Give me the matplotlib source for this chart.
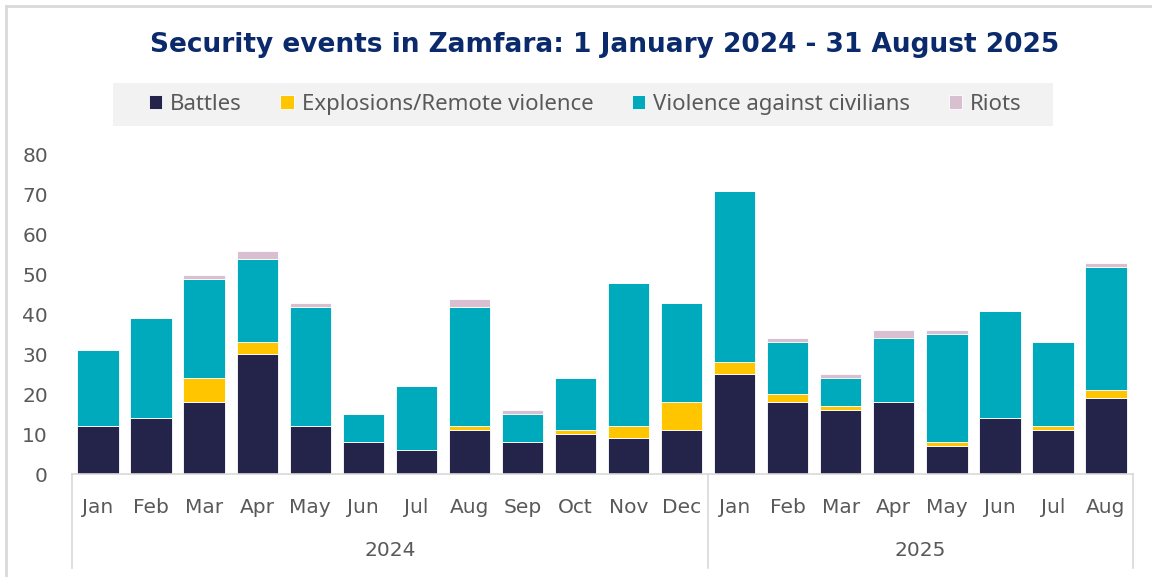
import numpy as np
import matplotlib
matplotlib.use("Agg")
import matplotlib.pyplot as plt
from matplotlib.lines import Line2D
from matplotlib.patches import Rectangle

# months on the x axis (two years)
months = ["Jan", "Feb", "Mar", "Apr", "May", "Jun", "Jul", "Aug", "Sep", "Oct", "Nov", "Dec",
          "Jan", "Feb", "Mar", "Apr", "May", "Jun", "Jul", "Aug"]
years = ["2024", "2025"]
months_per_year = [12, 8]

battles =    [12, 14, 18, 30, 12, 8, 6, 11, 8, 10, 9, 11, 25, 18, 16, 18, 7, 14, 11, 19]
explosions = [0, 0, 6, 3, 0, 0, 0, 1, 0, 1, 3, 7, 3, 2, 1, 0, 1, 0, 1, 2]
violence =   [19, 25, 25, 21, 30, 7, 16, 30, 7, 13, 36, 25, 43, 13, 7, 16, 27, 27, 21, 31]
riots =      [0, 0, 1, 2, 1, 0, 0, 2, 1, 0, 0, 0, 0, 1, 1, 2, 1, 0, 0, 1]

series = [
    ("Battles", battles, "#24244B"),
    ("Explosions/Remote violence", explosions, "#FFC600"),
    ("Violence against civilians", violence, "#00AABD"),
    ("Riots", riots, "#D9C0D1"),
]

grey_txt = "#595959"
line_col = "#D9D9D9"
W, H = 1152, 577

fig = plt.figure(figsize=(11.52, 5.77), dpi=100)
ax = fig.add_axes([0.0621, 0.1785, 0.921, 0.5529])

x = np.arange(len(months))
bottom = np.zeros(len(months))
for name, vals, col in series:
    vals = np.array(vals, dtype=float)
    ax.bar(x, vals, 0.78, bottom=bottom, color=col, edgecolor="white", linewidth=0.6, label=name)
    bottom += vals

ax.set_xlim(-0.5, len(months) - 0.5)
ax.set_ylim(0, 80)
ax.set_yticks(range(0, 81, 10))
ax.tick_params(axis="y", length=0, pad=17, labelsize=14.5, labelcolor=grey_txt)
ax.set_xticks(x, months)
ax.tick_params(axis="x", length=0, pad=17, labelsize=14.5, labelcolor=grey_txt)
for s in ["top", "right", "left"]:
    ax.spines[s].set_visible(False)
ax.spines["bottom"].set_color(line_col)
ax.spines["bottom"].set_linewidth(1.2)

# multi-level category separators and year labels
trans = ax.get_xaxis_transform()
edges = [-0.5]
for n in months_per_year:
    edges.append(edges[-1] + n)
for e in edges:
    ax.add_line(Line2D([e, e], [0, -0.295], transform=trans, color=line_col, lw=1.2, clip_on=False))
for i, yr in enumerate(years):
    ax.text((edges[i] + edges[i + 1]) / 2, -0.24, yr, transform=trans, ha="center", va="center",
            fontsize=14.5, color=grey_txt)

fig.text(0.525, 0.922, "Security events in Zamfara: 1 January 2024 - 31 August 2025",
         ha="center", va="center", fontsize=19, fontweight="bold", color="#0B2A6B")

# grey legend band
fig.add_artist(Rectangle((113 / W, 1 - 126 / H), 940 / W, 43 / H, transform=fig.transFigure,
                         facecolor="#F2F2F2", edgecolor="none", zorder=0))
leg = fig.legend(loc="center", bbox_to_anchor=(0.508, 0.8195), ncol=4, frameon=False,
                 handlelength=0.6, handleheight=0.6, handletextpad=0.35,
                 columnspacing=1.75, prop={"family": "Noto Sans", "size": 16})
for t in leg.get_texts():
    t.set_color(grey_txt)

# outer chart border (top and left visible)
fig.add_artist(Line2D([6 / W, 6 / W], [0, 1 - 6 / H], transform=fig.transFigure, color=line_col, lw=2))
fig.add_artist(Line2D([6 / W, 1], [1 - 6 / H, 1 - 6 / H], transform=fig.transFigure, color=line_col, lw=2))

fig.savefig("out.png", dpi=100)
